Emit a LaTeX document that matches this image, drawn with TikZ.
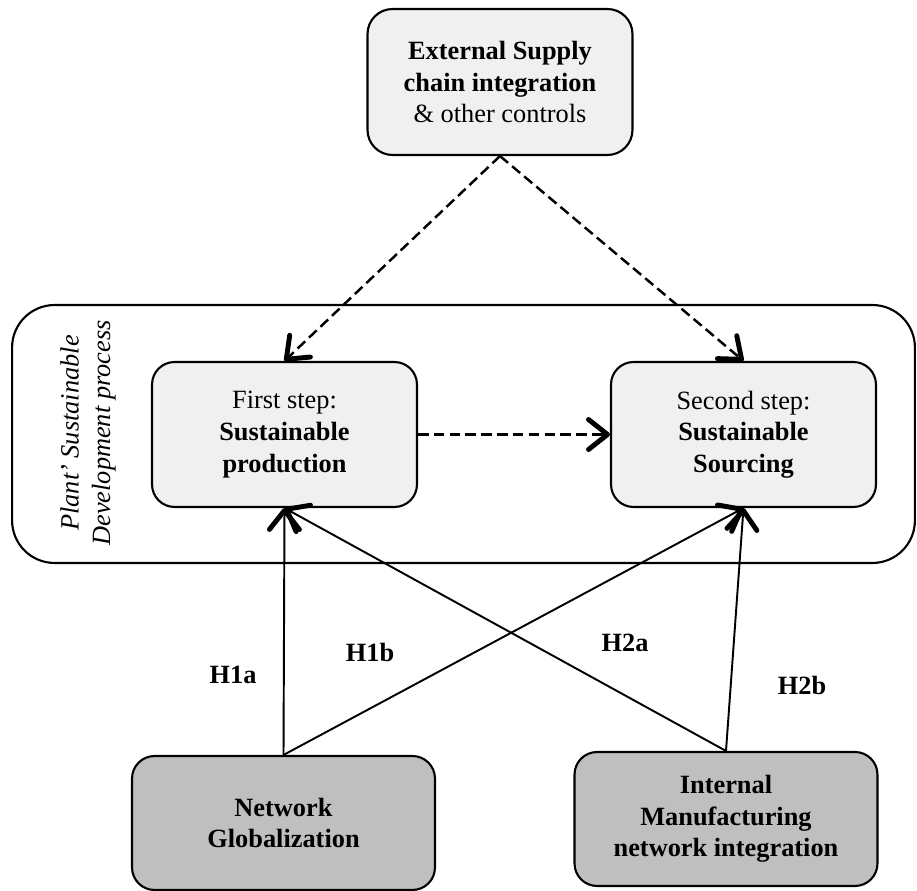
\documentclass[tikz,border=0pt]{standalone}
\usepackage{fontspec}
\setmainfont{Liberation Serif}
\usetikzlibrary{arrows.meta}

\begin{document}
\begin{tikzpicture}[
    x=0.02cm, y=-0.02cm,
    font=\fontsize{15}{18}\selectfont,
    box/.style={draw, line width=1.2pt, rounded corners=0.45cm, align=center, inner sep=2pt},
    lightbox/.style={box, fill=black!6, minimum width=5.3cm, minimum height=2.9cm},
    darkbox/.style={box, fill=black!25, minimum width=6.06cm, minimum height=2.68cm},
    link/.style={line width=1.1pt, -{Straight Barb[length=3.8mm,width=6mm,line width=2.8pt,round]}},
    dashlink/.style={link, line width=1.4pt, dash pattern=on 6pt off 3pt},
    hyp/.style={font=\fontsize{15}{18}\selectfont\bfseries}
  ]

  \path[use as bounding box] (0,0) rectangle (917,891);

  % Process frame
  \node[draw, line width=1.2pt, rounded corners=0.85cm,
    minimum width=18.06cm, minimum height=5.16cm] (process) at (463.5,434) {};
  \node[rotate=90, align=center, font=\fontsize{15}{18}\selectfont\itshape] (processlabel) at (88,433)
  {Plant’ Sustainable\\Development process};

  % Boxes
  \node[lightbox, minimum height=2.92cm, rounded corners=0.5cm] (external) at (500,82)
  {\textbf{External Supply}\\\textbf{chain integration}\\\& other controls};
  \node[lightbox] (first) at (284.5,434.5)
  {First step:\\\textbf{Sustainable}\\\textbf{production}};
  \node[lightbox] (second) at (743.5,434.5)
  {Second step:\\\textbf{Sustainable}\\\textbf{Sourcing}};
  \node[darkbox] (network) at (283.5,823)
  {\textbf{Network}\\\textbf{Globalization}};
  \node[darkbox] (internal) at (726,819)
  {\textbf{Internal}\\\textbf{Manufacturing}\\\textbf{network integration}};

  % Dashed links
  \draw[dashlink] (external.south) -- (first.north);
  \draw[dashlink] (external.south) -- (second.north);
  \draw[dashlink] (first.east) -- (second.west);

  % Hypotheses
  \draw[link] (network.north) -- (first.south);
  \draw[link] (network.north) -- (second.south);
  \draw[link] (internal.north) -- (first.south);
  \draw[link] (internal.north) -- (second.south);

  \node[hyp] (h1a) at (233,675) {H1a};
  \node[hyp] (h1b) at (370,652) {H1b};
  \node[hyp] (h2a) at (625,643) {H2a};
  \node[hyp] (h2b) at (802,685) {H2b};

\end{tikzpicture}
\end{document}
